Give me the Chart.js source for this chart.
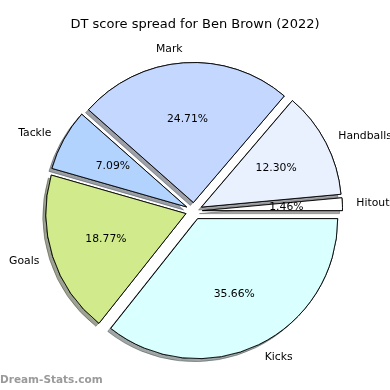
<!DOCTYPE html>
<html><head><meta charset="utf-8">
<script src="https://cdn.jsdelivr.net/npm/chart.js@4"></script>
<style>html,body{margin:0;padding:0;background:#fff}#w{width:390px;height:390px;position:relative}</style>
</head><body><div id="w"><canvas id="c" width="390" height="390"></canvas></div>
<script>
// Data (clockwise order from 3 o'clock, matching the matplotlib counter-clockwise layout)
const categories = ["Kicks", "Goals", "Tackle", "Mark", "Handballs", "Hitouts"];
const percentValues = [35.66, 18.77, 7.09, 24.71, 12.30, 1.46];
const sliceColors = ["#d9ffff", "#d0ea8c", "#b3d3ff", "#c4d8ff", "#e9f1ff", "#ffffff"];
const chartTitle = "DT score spread for Ben Brown (2022)";
const watermark = "Dream-Stats.com";

const EXPLODE = 8.5, RADIUS = 140, SH_DX = -3, SH_DY = 3;
const FONT = '"DejaVu Sans", sans-serif';

function shadowOf(hex){
  const n = parseInt(hex.slice(1),16);
  const r=(n>>16)&255,g=(n>>8)&255,b=n&255;
  return `rgba(${Math.round(r*0.3)},${Math.round(g*0.3)},${Math.round(b*0.3)},0.5)`;
}

const mplPie = {
  id: 'mplPie',
  beforeDatasetDraw(chart, args){
    const ctx = chart.ctx, arcs = args.meta.data;
    arcs.forEach((arc,i)=>{
      const mid=(arc.startAngle+arc.endAngle)/2;
      ctx.save();
      ctx.translate(Math.cos(mid)*EXPLODE, Math.sin(mid)*EXPLODE);
      ctx.shadowColor = shadowOf(sliceColors[i]);
      ctx.shadowOffsetX = SH_DX; ctx.shadowOffsetY = SH_DY; ctx.shadowBlur = 0;
      arc.draw(ctx);
      ctx.restore();
    });
    arcs.forEach((arc)=>{
      const mid=(arc.startAngle+arc.endAngle)/2;
      ctx.save();
      ctx.translate(Math.cos(mid)*EXPLODE, Math.sin(mid)*EXPLODE);
      arc.draw(ctx);
      ctx.restore();
    });
    return false;
  },
  afterDraw(chart){
    const ctx = chart.ctx, arcs = chart.getDatasetMeta(0).data;
    ctx.save();
    ctx.fillStyle = '#000';
    ctx.textBaseline = 'middle';
    ctx.font = `13px ${FONT}`;
    ctx.textAlign = 'center';
    ctx.fillText(chartTitle, 195, 25);
    ctx.font = `10.8px ${FONT}`;
    arcs.forEach((arc,i)=>{
      const mid=(arc.startAngle+arc.endAngle)/2;
      const c=Math.cos(mid), s=Math.sin(mid);
      const cx=arc.x+c*EXPLODE, cy=arc.y+s*EXPLODE;
      const r=arc.outerRadius;
      ctx.textAlign='center';
      ctx.fillText(percentValues[i].toFixed(2)+'%', cx+c*r*0.6, cy+s*r*0.6);
      const lx=cx+c*r*1.1, ly=cy+s*r*1.1;
      ctx.textAlign = c>0 ? 'left' : 'right';
      ctx.fillText(categories[i], lx, ly);
    });
    ctx.font = `bold 10.5px ${FONT}`;
    ctx.fillStyle = '#9a9a9a';
    ctx.textAlign='left';
    ctx.fillText(watermark, 0, 380);
    ctx.restore();
  }
};

new Chart(document.getElementById('c'), {
  type: 'pie',
  data: {
    labels: categories,
    datasets: [{
      data: percentValues,
      backgroundColor: sliceColors,
      borderColor: '#000',
      borderWidth: 0.9,
      borderJoinStyle: 'miter',
      radius: RADIUS
    }]
  },
  options: {
    responsive: false,
    animation: false,
    rotation: 90,
    layout: { padding: { left: 0, right: 2, top: 32, bottom: 0 } },
    plugins: { legend: { display: false }, tooltip: { enabled: false }, title: { display: false } }
  },
  plugins: [mplPie]
});
</script></body></html>
